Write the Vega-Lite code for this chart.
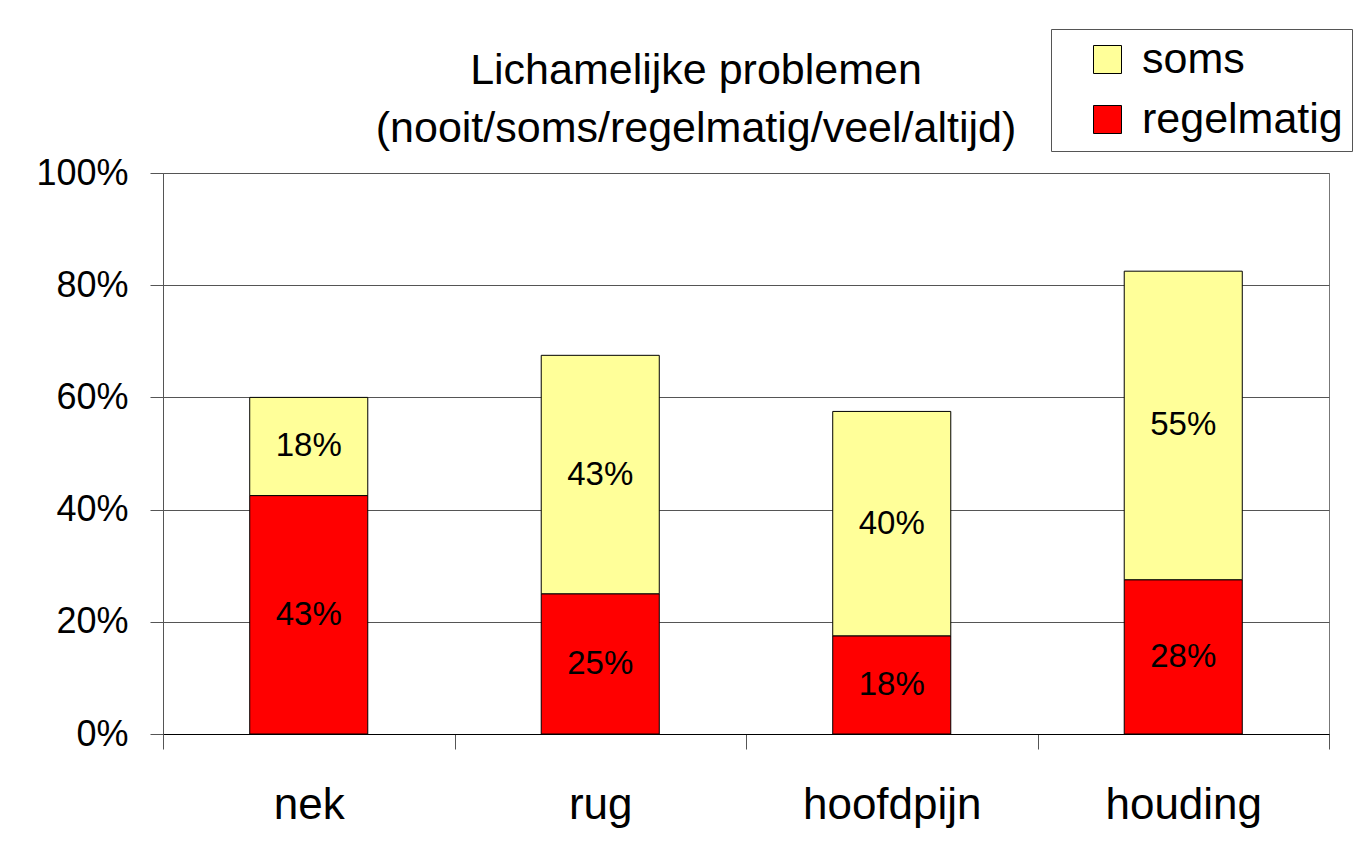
{
  "$schema": "https://vega.github.io/schema/vega-lite/v6.json",
  "width": 1166,
  "height": 561,
  "autosize": {"type": "none"},
  "padding": {"left": 163, "top": 173, "right": 38, "bottom": 118},
  "background": "white",
  "title": {
    "text": ["Lichamelijke problemen", "(nooit/soms/regelmatig/veel/altijd)"],
    "anchor": "middle",
    "frame": "group",
    "dx": -50,
    "fontSize": 43,
    "font": "Liberation Sans",
    "fontWeight": "normal",
    "lineHeight": 58,
    "baseline": "bottom",
    "offset": -165,
    "color": "black"
  },
  "data": {
    "values": [
      {"cat": "nek", "serie": "regelmatig", "ord": 1, "value": 42.5, "label": "43%"},
      {"cat": "nek", "serie": "soms", "ord": 2, "value": 17.5, "label": "18%"},
      {"cat": "rug", "serie": "regelmatig", "ord": 1, "value": 25, "label": "25%"},
      {"cat": "rug", "serie": "soms", "ord": 2, "value": 42.5, "label": "43%"},
      {"cat": "hoofdpijn", "serie": "regelmatig", "ord": 1, "value": 17.5, "label": "18%"},
      {"cat": "hoofdpijn", "serie": "soms", "ord": 2, "value": 40, "label": "40%"},
      {"cat": "houding", "serie": "regelmatig", "ord": 1, "value": 27.5, "label": "28%"},
      {"cat": "houding", "serie": "soms", "ord": 2, "value": 55, "label": "55%"}
    ]
  },
  "encoding": {
    "x": {
      "field": "cat",
      "type": "nominal",
      "sort": ["nek", "rug", "hoofdpijn", "houding"],
      "scale": {"paddingInner": 0, "paddingOuter": 0},
      "axis": {
        "title": null,
        "tickBand": "extent",
        "tickSize": 15,
        "tickColor": "#555555",
        "domainColor": "black",
        "labelFontSize": 44,
        "labelFont": "Liberation Sans",
        "labelColor": "black",
        "labelPadding": 34,
        "labelAngle": 0
      }
    }
  },
  "layer": [
    {
      "mark": {"type": "bar", "width": {"band": 0.405}, "stroke": "black", "strokeWidth": 1, "opacity": 1},
      "encoding": {
        "y": {
          "field": "value",
          "type": "quantitative",
          "stack": "zero",
          "scale": {"domain": [0, 100], "nice": false},
          "axis": {
            "values": [0, 20, 40, 60, 80, 100],
            "labelExpr": "datum.value + '%'",
            "title": null,
            "grid": true,
            "gridColor": "#555555",
            "gridOpacity": 1,
            "domainColor": "#555555",
            "tickColor": "#555555",
            "tickSize": 13,
            "labelFontSize": 36,
            "labelFont": "Liberation Sans",
            "labelColor": "black",
            "labelPadding": 22
          }
        },
        "color": {
          "field": "serie",
          "type": "nominal",
          "scale": {"domain": ["soms", "regelmatig"], "range": ["#FFFF99", "#FF0000"]},
          "legend": {
            "orient": "none",
            "legendX": 888,
            "legendY": -144,
            "title": null,
            "symbolType": "square",
            "symbolSize": 784,
            "symbolStrokeColor": "black",
            "symbolStrokeWidth": 1,
            "symbolOpacity": 1,
            "labelFontSize": 43,
            "labelFont": "Liberation Sans",
            "labelColor": "black",
            "labelOffset": 13,
            "labelLimit": 500,
            "labelExpr": "datum.label + '  '",
            "rowPadding": 16,
            "padding": 9,
            "symbolOffset": 26,
            "strokeColor": "#555555",
            "fillColor": "white"
          }
        },
        "order": {"field": "ord", "type": "quantitative"}
      }
    },
    {
      "mark": {"type": "text", "fontSize": 33, "font": "Liberation Sans", "color": "black"},
      "encoding": {
        "y": {"field": "value", "type": "quantitative", "stack": "zero", "bandPosition": 0.5},
        "detail": {"field": "serie", "type": "nominal"},
        "text": {"field": "label", "type": "nominal"},
        "order": {"field": "ord", "type": "quantitative"}
      }
    }
  ],
  "config": {
    "view": {"stroke": "#777777", "strokeWidth": 1}
  }
}
